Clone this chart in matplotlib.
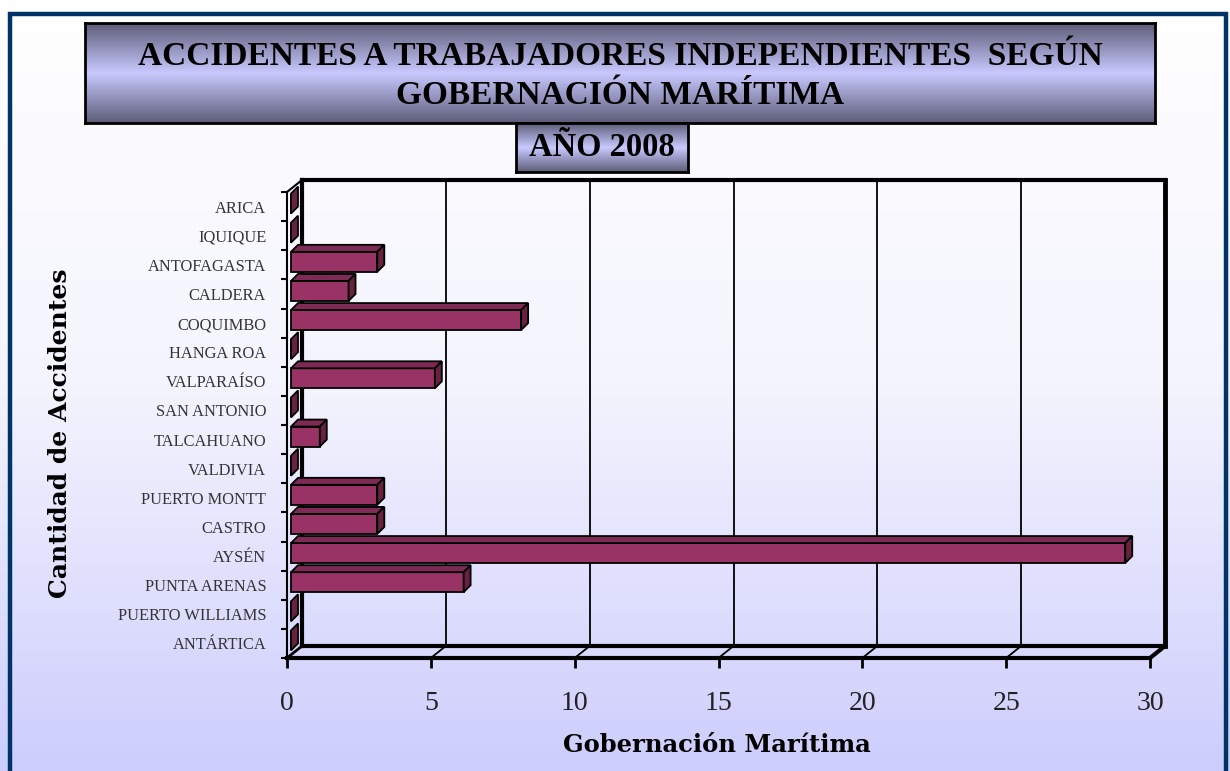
import numpy as np
import matplotlib
matplotlib.use('Agg')
import matplotlib.pyplot as plt
from matplotlib.colors import LinearSegmentedColormap
from matplotlib.patches import Polygon, Rectangle

categories = ['ARICA', 'IQUIQUE', 'ANTOFAGASTA', 'CALDERA', 'COQUIMBO', 'HANGA ROA',
              'VALPARAÍSO', 'SAN ANTONIO', 'TALCAHUANO', 'VALDIVIA', 'PUERTO MONTT',
              'CASTRO', 'AYSÉN', 'PUNTA ARENAS', 'PUERTO WILLIAMS', 'ANTÁRTICA']
values = [0, 0, 3, 2, 8, 0, 5, 0, 1, 0, 3, 3, 29, 6, 0, 0]
xticks = [0, 5, 10, 15, 20, 25, 30]

title = 'ACCIDENTES A TRABAJADORES INDEPENDIENTES  SEGÚN\nGOBERNACIÓN MARÍTIMA'
subtitle = 'AÑO 2008'
xlabel = 'Gobernación Marítima'
ylabel = 'Cantidad de Accidentes'

W, H = 1230, 771
fig = plt.figure(figsize=(W / 100, H / 100), dpi=100)


def fbox(x0, y0, x1, y1):
    # pixel box (image coords) -> figure fraction [l, b, w, h]
    return [x0 / W, 1 - y1 / H, (x1 - x0) / W, (y1 - y0) / H]


# background gradient
bg = fig.add_axes([0, 0, 1, 1], zorder=-10)
bg_cmap = LinearSegmentedColormap.from_list('bg', ['#ffffff', '#f4f4fe', '#cdcdfd'])
bg.imshow(np.linspace(0, 1, 256).reshape(-1, 1), cmap=bg_cmap, aspect='auto',
          extent=[0, 1, 0, 1], origin='upper')
bg.set_xlim(0, 1)
bg.set_ylim(0, 1)
bg.axis('off')
bg.add_patch(Rectangle((10 / W, -0.05), 1216 / W, 1 - 14 / H + 0.05, fill=False,
                       edgecolor='#003366', lw=3.2, transform=bg.transAxes))

# title boxes with gradient fill
box_cmap = LinearSegmentedColormap.from_list('box', ['#5c5c78', '#c9c9ff', '#5c5c78'])
for box, txt, fs, ty in [((85, 23, 1155, 123), title, 24, 0.47),
                         ((516, 123, 688, 172), subtitle, 23.5, 0.5)]:
    tb = fig.add_axes(fbox(*box), zorder=5)
    tb.imshow(np.linspace(0, 1, 256).reshape(-1, 1), cmap=box_cmap, aspect='auto',
              extent=[0, 1, 0, 1])
    tb.set_xticks([])
    tb.set_yticks([])
    for s in tb.spines.values():
        s.set_linewidth(2)
        s.set_color('black')
    tb.text(0.5, ty, txt, ha='center', va='center', fontsize=fs, fontweight='bold',
            family='Liberation Serif', linespacing=1.32, transform=tb.transAxes)

# main axes = front plane of the 3D plot
ax = fig.add_axes(fbox(287, 192, 1150, 658), zorder=1)
ax.patch.set_alpha(0)
ax.set_xlim(0, 30)
ax.set_ylim(16, 0)
for s in ax.spines.values():
    s.set_visible(False)

sx = 30 / 863
sy = 16 / 466
bdx, bdy = 15 * sx, -12 * sy    # wall depth
fdx, fdy = 4 * sx, -3 * sy      # bar front face offset
ddx, ddy = 7 * sx, -7 * sy      # bar depth
bh = 20 * sy

k = dict(color='black', clip_on=False, solid_capstyle='projecting')
# back wall gridlines
for x in xticks[1:-1]:
    ax.plot([x + bdx, x + bdx], [bdy, 16 + bdy], lw=1.3, **k)
    ax.plot([x, x + bdx], [16, 16 + bdy], lw=1.3, **k)
# wall edges
ax.plot([bdx, 30 + bdx], [bdy, bdy], lw=3, **k)
ax.plot([30 + bdx, 30 + bdx], [bdy, 16 + bdy], lw=3.5, **k)
ax.plot([bdx, 30 + bdx], [16 + bdy, 16 + bdy], lw=3, **k)
ax.plot([bdx, bdx], [bdy, 16 + bdy], lw=3, **k)
ax.plot([0, 30], [16, 16], lw=3, **k)
ax.plot([0, 0], [0, 16], lw=1.5, **k)
ax.plot([0, bdx], [0, bdy], lw=1.5, **k)
ax.plot([30, 30 + bdx], [16, 16 + bdy], lw=3, **k)
ax.plot([0, bdx], [16, 16 + bdy], lw=2, **k)

# bars
ypos = np.arange(len(categories)) + 0.5
yc = ypos + fdy
ax.barh(yc, values, height=bh, left=fdx, color='#993366', edgecolor='black',
        linewidth=1.3, zorder=3)
for y, v in zip(yc, values):
    x0, x1 = fdx, fdx + v
    top, bot = y - bh / 2, y + bh / 2
    if v > 0:
        ax.add_patch(Polygon([(x0, top), (x1, top), (x1 + ddx, top + ddy), (x0 + ddx, top + ddy)],
                             closed=True, facecolor='#7d2a55', edgecolor='black', lw=1.3,
                             zorder=3, clip_on=False))
    ax.add_patch(Polygon([(x1, top), (x1 + ddx, top + ddy), (x1 + ddx, bot + ddy), (x1, bot)],
                         closed=True, facecolor='#66223f', edgecolor='black', lw=1.3,
                         zorder=3, clip_on=False))

# ticks and labels
ax.set_xticks(xticks)
ax.set_xticklabels([str(t) for t in xticks], family='Liberation Serif', fontsize=20,
                   color='#222222')
ax.tick_params(axis='x', length=7, width=2, pad=17, color='black')
ax.set_yticks(ypos)
ax.set_yticklabels(categories, family='Liberation Serif', fontsize=11.8, color='#333333')
ax.set_yticks(np.arange(0, 17), minor=True)
ax.tick_params(axis='y', which='major', length=0, pad=15)
ax.tick_params(axis='y', which='minor', length=4, width=1.5)
ax.tick_params(axis='x', which='minor', length=0)

fig.text(717 / W, 1 - 745 / H, xlabel, ha='center', va='center', fontsize=17.5,
         fontweight='bold', family='DejaVu Serif')
fig.text(60 / W, 1 - 433 / H, ylabel, ha='center', va='center', fontsize=18,
         fontweight='bold', family='DejaVu Serif', rotation=90)

fig.savefig('out.png', dpi=100)
